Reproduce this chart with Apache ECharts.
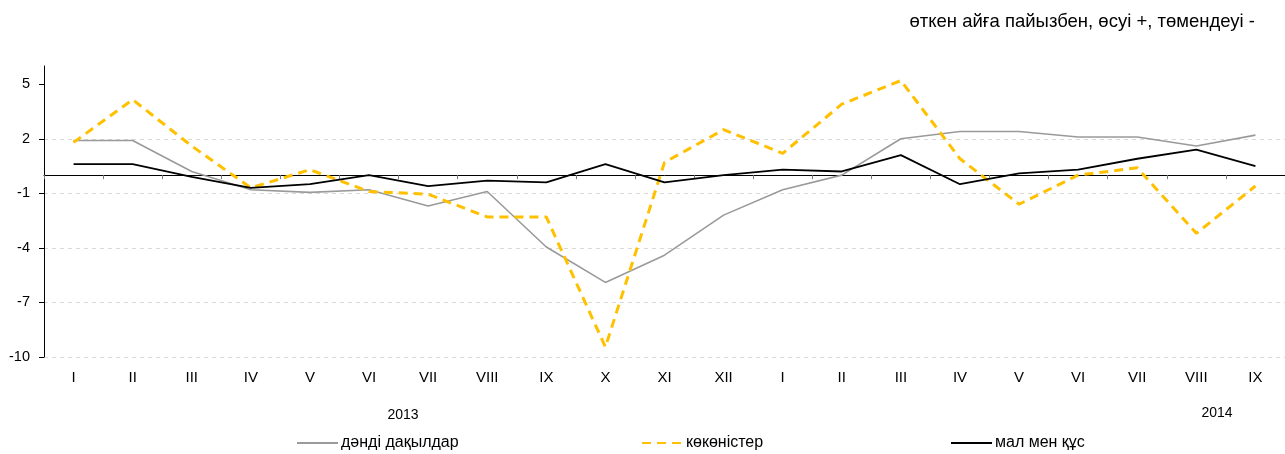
<!DOCTYPE html>
<html>
<head>
<meta charset="utf-8">
<script src="https://cdn.jsdelivr.net/npm/echarts@6/dist/echarts.min.js"></script>
<style>
  html, body { margin: 0; padding: 0; background: #fff; }
  #chart { width: 1285px; height: 454px; }
</style>
</head>
<body>
<div id="chart"></div>
<script>
// ---- data ----
var categories = ['I','II','III','IV','V','VI','VII','VIII','IX','X','XI','XII','I','II','III','IV','V','VI','VII','VIII','IX'];
var grain      = [1.9, 1.9, 0.2, -0.8, -0.95, -0.8, -1.7, -0.9, -3.95, -5.9, -4.4, -2.2, -0.8, 0.0, 2.0, 2.4, 2.4, 2.1, 2.1, 1.6, 2.2];
var vegetables = [1.8, 4.15, 1.6, -0.7, 0.3, -0.9, -1.05, -2.3, -2.3, -9.45, 0.7, 2.5, 1.2, 3.9, 5.2, 0.9, -1.6, 0.0, 0.4, -3.2, -0.6];
var livestock  = [0.6, 0.6, -0.1, -0.7, -0.5, 0.0, -0.6, -0.3, -0.4, 0.6, -0.4, 0.0, 0.3, 0.2, 1.1, -0.5, 0.1, 0.3, 0.9, 1.4, 0.5];
var seriesNames = ['дәнді дақылдар', 'көкөністер', 'мал мен құс'];
var yTicks = [-10, -7, -4, -1, 2, 5];
var years = ['2013', '2014'];
var subtitle = 'өткен айға пайызбен, өсуі +, төмендеуі -';

var FONT = '"Liberation Sans", Arial, sans-serif';
var chart = echarts.init(document.getElementById('chart'), null, { renderer: 'canvas' });

function legendFor(name, left) {
  return {
    data: [name], left: left, top: 435, itemWidth: 41, itemHeight: 14, itemGap: 0,
    textStyle: { fontFamily: FONT, fontSize: 16, color: '#000', padding: [0, 0, 0, -2] },
    itemStyle: { opacity: 0, color: 'transparent', borderWidth: 0 },
    selectedMode: false, padding: 0
  };
}

var option = {
  animation: false,
  backgroundColor: '#fff',
  title: {
    text: subtitle, right: 25, top: 7,
    textStyle: { fontFamily: FONT, fontSize: 18.5, fontWeight: 'normal', color: '#000' }
  },
  legend: [legendFor(seriesNames[0], 296), legendFor(seriesNames[1], 641), legendFor(seriesNames[2], 950)],
  grid: { left: 44, top: 66, width: 1252, height: 291, containLabel: false },
  xAxis: [
    {
      type: 'category', data: categories, boundaryGap: true, position: 'bottom',
      axisLine: { show: false, onZero: false },
      axisTick: { show: false },
      axisLabel: { margin: 13, fontFamily: FONT, fontSize: 15, color: '#000', interval: 0 },
      splitLine: { show: false }
    },
    {
      type: 'category', data: categories, boundaryGap: true, position: 'bottom',
      axisLine: { show: true, onZero: true, lineStyle: { color: '#000', width: 1 } },
      axisTick: { show: true, length: 4, inside: false, lineStyle: { color: '#777' } },
      axisLabel: { show: false },
      splitLine: { show: false }
    }
  ],
  yAxis: {
    type: 'value', min: -10, max: 6, interval: 3,
    axisLine: { show: true, lineStyle: { color: '#000', width: 1 } },
    axisTick: { show: true, length: 5, lineStyle: { color: '#000' }, customValues: yTicks },
    axisLabel: {
      customValues: yTicks, margin: 14, fontFamily: FONT, fontSize: 14.5, color: '#000',
      formatter: function (v) { return v === 6 ? '' : String(v); }
    },
    splitLine: { show: true, showMaxLine: false, lineStyle: { color: '#d9d9d9', type: [4, 4], width: 1 } }
  },
  series: [
    {
      name: seriesNames[0], type: 'line', data: grain, xAxisIndex: 0, symbol: 'none',
      lineStyle: { color: '#9a9a9a', width: 1.6 }, itemStyle: { color: '#9a9a9a' }
    },
    {
      name: seriesNames[1], type: 'line', data: vegetables, xAxisIndex: 0, symbol: 'none',
      lineStyle: { color: '#FFC000', width: 3, type: [9, 6], cap: 'butt' }, itemStyle: { color: '#FFC000' }
    },
    {
      name: seriesNames[2], type: 'line', data: livestock, xAxisIndex: 0, symbol: 'none',
      lineStyle: { color: '#000', width: 1.8 }, itemStyle: { color: '#000' }
    }
  ],
  graphic: [
    { type: 'text', x: 403, y: 415, style: { text: years[0], font: '14px ' + FONT, fill: '#000', textAlign: 'center', textVerticalAlign: 'middle' } },
    { type: 'text', x: 1217, y: 413, style: { text: years[1], font: '14px ' + FONT, fill: '#000', textAlign: 'center', textVerticalAlign: 'middle' } }
  ]
};
chart.setOption(option);
</script>
</body>
</html>
